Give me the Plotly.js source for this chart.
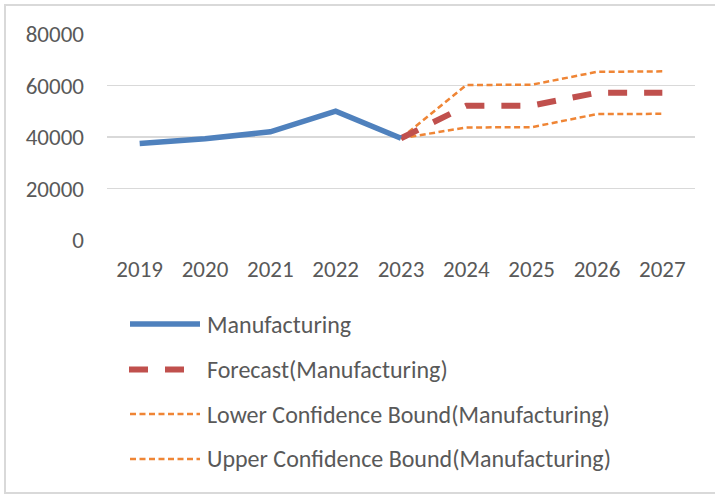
<!DOCTYPE html>
<html>
<head>
<meta charset="utf-8">
<script src="https://cdn.plot.ly/plotly-3.0.1.min.js"></script>
<style>
  html, body { margin: 0; padding: 0; background: #fff; overflow: hidden; }
  #wrap { position: relative; width: 715px; height: 495px; }
  #chart { position: absolute; left: 0; top: 0; width: 715px; height: 495px; }
  #frame { position: absolute; left: 4px; top: 4px; width: 714px; height: 486px;
           border: 2px solid #d9d9d9; pointer-events: none; }
</style>
</head>
<body>
<div id="wrap">
  <div id="chart"></div>
  <div id="frame"></div>
</div>
<script>
const years = ['2019', '2020', '2021', '2022', '2023', '2024', '2025', '2026', '2027'];
const manufacturing = [37500, 39300, 42000, 50000, 39500, null, null, null, null];
const forecast = [null, null, null, null, 39500, 52100, 52200, 57200, 57200];
const lowerBound = [null, null, null, null, 39500, 43700, 43800, 48900, 49000];
const upperBound = [null, null, null, null, 39500, 60200, 60300, 65300, 65500];
const seriesNames = ['Manufacturing', 'Forecast(Manufacturing)',
  'Lower Confidence Bound(Manufacturing)', 'Upper Confidence Bound(Manufacturing)'];
const yTicks = [0, 20000, 40000, 60000, 80000];

const W = 715, H = 495;
const M = { l: 107, r: 20, t: 34, b: 255 };
const plotW = W - M.l - M.r, plotH = H - M.t - M.b;
const px = x => (x - M.l) / plotW;
const py = y => (H - M.b - y) / plotH;

const blue = '#4f81bd', red = '#c0504d', orange = '#ef8535';
const font = "Calibri, Carlito, 'Open Sans', sans-serif";
const textColor = '#595959';
const fs = 23;
const legendFs = 24;

const styles = [
  { color: blue, width: 5.5, dash: 'solid' },
  { color: red, width: 6, dash: '19px,17px' },
  { color: orange, width: 2.5, dash: '6px,3.5px' },
  { color: orange, width: 2.5, dash: '6px,3.5px' }
];
const seriesData = [manufacturing, forecast, lowerBound, upperBound];

const traces = seriesData.map((vals, i) => ({
  type: 'scatter', mode: 'lines', x: years, y: vals, name: seriesNames[i],
  line: styles[i], connectgaps: false, showlegend: false, hoverinfo: 'x+y'
}));
// draw order: bounds first, then forecast, then actual
const ordered = [traces[2], traces[3], traces[1], traces[0]];

const legendRows = [324, 369.5, 414, 459];
const shapes = [], annotations = [];
legendRows.forEach((yy, i) => {
  shapes.push({
    type: 'line', xref: 'paper', yref: 'paper',
    x0: px(i === 1 ? 129 : 130), x1: px(i === 1 ? 188 : 200), y0: py(yy), y1: py(yy),
    line: styles[i]
  });
  annotations.push({
    xref: 'paper', yref: 'paper', x: px(205), y: py(yy),
    xanchor: 'left', yanchor: 'middle', showarrow: false,
    text: seriesNames[i], font: { family: font, size: legendFs, color: textColor }
  });
});

const layout = {
  width: W, height: H,
  margin: M,
  paper_bgcolor: '#ffffff', plot_bgcolor: '#ffffff',
  font: { family: font, size: fs, color: textColor },
  showlegend: false,
  xaxis: {
    type: 'category', categoryorder: 'array', categoryarray: years,
    range: [-0.5, years.length - 0.5],
    showgrid: false, zeroline: false, showline: false,
    ticks: '', ticklabelstandoff: 13,
    tickfont: { family: font, size: fs, color: textColor }
  },
  yaxis: {
    range: [0, 80000], tickvals: yTicks, ticktext: yTicks.map(String),
    showgrid: true, gridcolor: '#d9d9d9', gridwidth: 1.5,
    zeroline: false, showline: false, ticks: '',
    ticklabelstandoff: 22,
    tickfont: { family: font, size: fs, color: textColor }
  },
  shapes: shapes,
  annotations: annotations
};

Plotly.newPlot('chart', ordered, layout, { displayModeBar: false, staticPlot: true });
</script>
</body>
</html>
